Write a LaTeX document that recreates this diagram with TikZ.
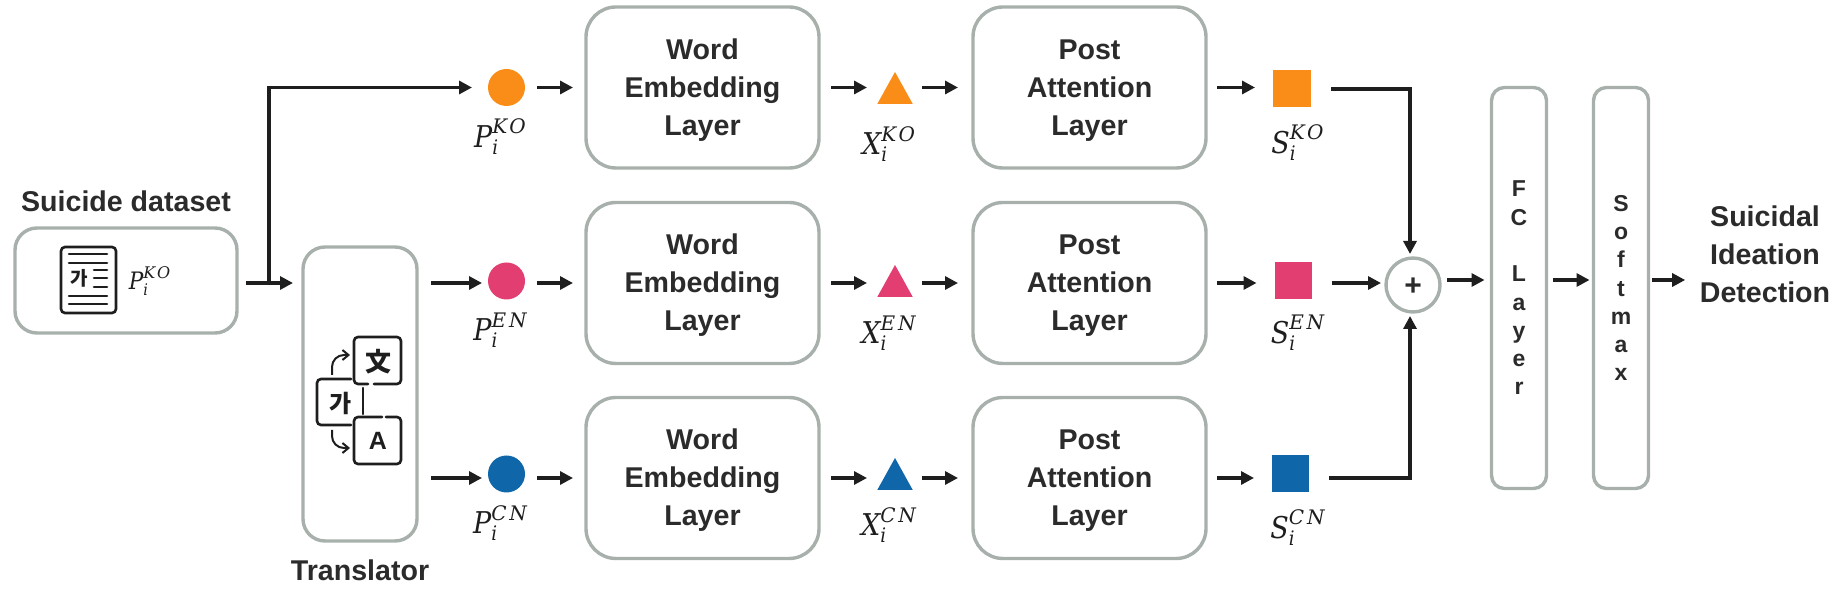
\documentclass[tikz,border=0pt]{standalone}
\usepackage{fontspec}
\setmainfont{Liberation Sans}
\newfontfamily\cjk{Noto Sans CJK KR}
\newfontfamily\symfont{DejaVu Serif}[FakeStretch=0.9]
\newfontfamily\supfont{DejaVu Serif}[LetterSpace=14]
\newcommand{\symlabel}[3]{$\mbox{\symfont\itshape #1}_{\mbox{\symfont\itshape\fontsize{10}{10}\selectfont #2}}^{\mbox{\supfont\itshape\fontsize{10}{10}\selectfont #3}}$}
\newcommand{\smallsymlabel}[3]{$\mbox{\symfont\itshape #1}_{\mbox{\symfont\itshape\fontsize{8}{8}\selectfont #2}}^{\mbox{\supfont\itshape\fontsize{8}{8}\selectfont #3}}$}
\newcommand{\lowered}[1]{\raisebox{-1pt}[\height][\depth]{#1}}
\newcommand{\layerlines}[3]{\lowered{\begin{tabular}{@{}c@{}}#1\\#2\\#3\end{tabular}}}
\usetikzlibrary{shapes.geometric, positioning, arrows.meta, calc}

\definecolor{edgegray}{HTML}{A7B0AB}
\definecolor{inkdark}{HTML}{1E1E1E}
\definecolor{textdark}{HTML}{2B2B2B}
\definecolor{koorange}{HTML}{F98D18}
\definecolor{enpink}{HTML}{E23E72}
\definecolor{cnblue}{HTML}{0F66A8}

\begin{document}
\begin{tikzpicture}[
        x=0.5pt, y=-0.5pt,
        every node/.style={text=textdark, outer sep=0pt},
        flow/.style={-{Triangle[length=6.5pt,width=6.5pt]}, line width=1.6pt, draw=inkdark},
        icon/.style={line width=1.3pt, draw=inkdark, line cap=round},
        iconarrow/.style={line width=1pt, draw=inkdark, -{Straight Barb[length=3pt,width=5pt]}},
        heading/.style={font=\fontsize{14.3}{19}\selectfont\bfseries, align=center},
        layerbox/.style={rectangle, rounded corners=15pt, draw=edgegray, line width=1.7pt, minimum width=116.5pt, minimum height=80.5pt, heading},
        tallbox/.style={rectangle, rounded corners=6.5pt, draw=edgegray, line width=1.7pt, minimum width=27.5pt, minimum height=200.5pt, align=center, font=\fontsize{11.5}{14.15}\selectfont\bfseries},
        dot/.style={circle, minimum size=18.5pt, inner sep=0pt},
        tri/.style={isosceles triangle, isosceles triangle stretches, shape border rotate=90, minimum width=17.75pt, minimum height=16pt, inner sep=0pt, anchor=lower side},
        sq/.style={rectangle, minimum width=19pt, minimum height=18.5pt, inner sep=0pt},
        symbol/.style={font=\fontsize{15}{18}\selectfont, text=inkdark, inner sep=0pt}
    ]
        \useasboundingbox (0,0) rectangle (1840,592);

        % Input side
        \node[layerbox, rounded corners=11pt, minimum width=111pt, minimum height=52.5pt] (dataset) at (126,280.5) {};
        \node[heading, above=5pt of dataset] (datasetTitle) {Suicide dataset};
        \node[layerbox, rounded corners=11pt, minimum width=57pt, minimum height=147pt] (transl) at (360,394) {};
        \node[heading, below=6pt of transl] (translTitle) {Translator};
        \coordinate (split) at (269,283);

        % Word embedding column
        \node[layerbox] (wordKO) at (702.5,87.5) {\layerlines{Word}{Embedding}{Layer}};
        \node[layerbox] (wordEN) at (702.5,283) {\layerlines{Word}{Embedding}{Layer}};
        \node[layerbox] (wordCN) at (702.5,478) {\layerlines{Word}{Embedding}{Layer}};

        % Post attention column
        \node[layerbox, right=77pt of wordKO] (postKO) {\layerlines{Post}{Attention}{Layer}};
        \node[layerbox, right=77pt of wordEN] (postEN) {\layerlines{Post}{Attention}{Layer}};
        \node[layerbox, right=77pt of wordCN] (postCN) {\layerlines{Post}{Attention}{Layer}};

        % Dots
        \node[dot, fill=koorange, left=30.5pt of wordKO] (pKO) {};
        \node[dot, fill=enpink, left=30.5pt of wordEN, yshift=1pt] (pEN) {};
        \node[dot, fill=cnblue, left=30.5pt of wordCN, yshift=2pt] (pCN) {};
        \node[symbol, below=6.5pt of pKO, xshift=-3pt] (pKOlabel) {\symlabel{P}{i}{KO}};
        \node[symbol, below=6.5pt of pEN, xshift=-3pt] (pENlabel) {\symlabel{P}{i}{EN}};
        \node[symbol, below=6.5pt of pCN, xshift=-3pt] (pCNlabel) {\symlabel{P}{i}{CN}};

        % Triangles
        \node[tri, fill=koorange] (xKO) at (895,104) {};
        \node[tri, fill=enpink] (xEN) at (895,297) {};
        \node[tri, fill=cnblue] (xCN) at (895,490) {};
        \node[symbol] (xKOlabel) at (889,144) {\symlabel{X}{i}{KO}};
        \node[symbol] (xENlabel) at (889,333) {\symlabel{X}{i}{EN}};
        \node[symbol] (xCNlabel) at (889,525) {\symlabel{X}{i}{CN}};

        % Squares
        \node[sq, fill=koorange] (sKO) at (1292,89) {};
        \node[sq, fill=enpink, minimum width=18.5pt] (sEN) at (1293,280.5) {};
        \node[sq, fill=cnblue, minimum width=18.5pt] (sCN) at (1290.5,473.5) {};
        \node[symbol] (sKOlabel) at (1298,143) {\symlabel{S}{i}{KO}};
        \node[symbol] (sENlabel) at (1298,333) {\symlabel{S}{i}{EN}};
        \node[symbol] (sCNlabel) at (1298,528) {\symlabel{S}{i}{CN}};

        % Output side
        \node[circle, draw=edgegray, line width=1.7pt, minimum size=27pt, inner sep=0pt, font=\fontsize{15}{15}\selectfont\bfseries] (sum) at (1413,285) {\lowered{+}};
        \node[tallbox] (fc) at (1519,288) {F\\C\\ \\L\\a\\y\\e\\r};
        \node[tallbox, right=51pt of fc.center, anchor=center] (softmax) {S\\o\\f\\t\\m\\a\\x};
        \node[heading] (result) at (1765,254) {Suicidal\\Ideation\\Detection};
        \coordinate (outrow) at (1450,280);

        % Arrows
        \draw[flow, shorten <=4.5pt, shorten >=5pt] (dataset.east |- split) -- (transl.west |- split);
        \draw[flow, shorten >=8pt] (split) |- (pKO.west);
        \draw[flow, shorten <=7pt, shorten >=3pt] (transl.east |- wordEN) -- (pEN.west |- wordEN);
        \draw[flow, shorten <=7pt, shorten >=3pt] (transl.east |- wordCN) -- (pCN.west |- wordCN);

        \draw[flow, shorten <=6pt, shorten >=6.5pt] (pKO.east |- wordKO) -- (wordKO.west);
        \draw[flow, shorten <=6pt, shorten >=6.5pt] (pEN.east |- wordEN) -- (wordEN.west);
        \draw[flow, shorten <=6pt, shorten >=6.5pt] (pCN.east |- wordCN) -- (wordCN.west);

        \draw[flow, shorten <=6pt, shorten >=14pt] (wordKO.east) -- (wordKO.east -| xKO.lower side);
        \draw[flow, shorten <=6pt, shorten >=14pt] (wordEN.east) -- (wordEN.east -| xEN.lower side);
        \draw[flow, shorten <=6pt, shorten >=14pt] (wordCN.east) -- (wordCN.east -| xCN.lower side);

        \draw[flow, shorten <=13.5pt, shorten >=7.5pt] (postKO.west -| xKO.lower side) -- (postKO.west);
        \draw[flow, shorten <=13.5pt, shorten >=7.5pt] (postEN.west -| xEN.lower side) -- (postEN.west);
        \draw[flow, shorten <=13.5pt, shorten >=7.5pt] (postCN.west -| xCN.lower side) -- (postCN.west);

        \draw[flow, shorten <=5.5pt, shorten >=9pt] (postKO.east) -- (postKO.east -| sKO.west);
        \draw[flow, shorten <=5.5pt, shorten >=9pt] (postEN.east) -- (postEN.east -| sEN.west);
        \draw[flow, shorten <=5.5pt, shorten >=9pt] (postCN.east) -- (postCN.east -| sCN.west);

        \draw[flow, shorten <=10pt, shorten >=2pt] (sKO.east) -| ([xshift=-1.5pt]sum.north);
        \draw[flow, shorten <=10pt, shorten >=2.5pt] (sEN.east |- wordEN) -- (sum.west |- wordEN);
        \draw[flow, shorten <=10pt, shorten >=2pt] (sCN.east |- wordCN) -| ([xshift=-1.5pt]sum.south);

        \draw[flow, shorten <=3.5pt, shorten >=3.5pt] (sum.east |- outrow) -- (fc.west |- outrow);
        \draw[flow, shorten <=3pt, shorten >=2pt] (fc.east |- outrow) -- (softmax.west |- outrow);
        \draw[flow, shorten <=1.5pt, shorten >=4pt] (softmax.east |- outrow) -- (result.west |- outrow);

        % Document icon
        \draw[icon, rounded corners=2pt] (61,247) rectangle (116,313);
        \draw[icon] (69,254) -- (107,254) (69,263) -- (107,263);
        \draw[icon] (94,270) -- (107,270) (94,278) -- (107,278) (94,287) -- (107,287);
        \draw[icon] (69,296) -- (107,296) (69,304) -- (107,304);
        \node[font=\fontsize{9.5}{10}\selectfont\cjk\bfseries, text=inkdark, inner sep=0pt] (docGlyph) at (79,278) {가};
        \node[symbol, font=\fontsize{12}{14}\selectfont] (datasetLabel) at (150,281) {\smallsymlabel{P}{i}{KO}};

        % Translation icon
        \draw[icon, rounded corners=2pt] (368,384) -- (354,384) -- (354,337) -- (401,337) -- (401,384) -- (374,384);
        \draw[icon, rounded corners=2pt] (382,417) -- (354,417) -- (354,464) -- (401,464) -- (401,417) -- (386,417);
        \draw[icon, rounded corners=2pt] (351,379) -- (317,379) -- (317,425) -- (351,425);
        \draw[icon] (363,388) -- (363,414);
        \draw[iconarrow, rounded corners=6pt] (332,375) -- (332,355) -- (350,355);
        \draw[iconarrow, rounded corners=6pt] (332,430) -- (332,448) -- (350,448);
        \node[font=\fontsize{13}{13}\selectfont\cjk\bfseries, text=inkdark, inner sep=0pt] (zhGlyph) at (378,362) {文};
        \node[font=\fontsize{12}{12}\selectfont\cjk\bfseries, text=inkdark, inner sep=0pt] (koGlyph) at (341,403) {가};
        \node[font=\fontsize{12.5}{13}\selectfont\bfseries, text=inkdark, inner sep=0pt] (enGlyph) at (378,441) {A};
    \end{tikzpicture}
\end{document}
